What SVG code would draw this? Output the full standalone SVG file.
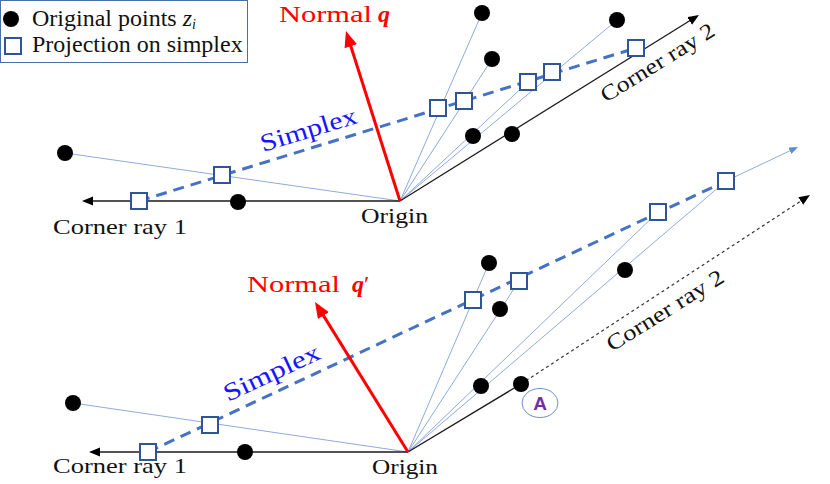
<svg xmlns="http://www.w3.org/2000/svg" width="830" height="484" viewBox="0 0 830 484">
<style>
text{font-family:"Liberation Serif","Times New Roman",serif;}
.ray{stroke:#1a1a1a;stroke-width:1.3;fill:none;}
.proj{stroke:#8FAADC;stroke-width:1;fill:none;}
.simp{stroke:#4472C4;stroke-width:3;stroke-dasharray:11 7;fill:none;}
.normal{stroke:#FF0000;stroke-width:3;fill:none;}
.pt{fill:#000;}
.sq{fill:#fff;stroke:#2F5597;stroke-width:2;}
.lbl{font-size:22px;fill:#111;}
.red{font-size:24px;fill:#FF0000;}
.blue{font-size:25px;fill:#1515FF;}
</style>
<defs>
<marker id="ahBlack" markerUnits="userSpaceOnUse" markerWidth="12" markerHeight="10" refX="1" refY="4.5" orient="auto"><path d="M0,0 L11,4.5 L0,9 z" fill="#000"/></marker>
<marker id="ahRed" markerUnits="userSpaceOnUse" markerWidth="17" markerHeight="14" refX="2" refY="6.5" orient="auto"><path d="M0,0 L16,6.5 L0,13 z" fill="#FF0000"/></marker>
<marker id="ahBlue" markerUnits="userSpaceOnUse" markerWidth="10" markerHeight="8" refX="1" refY="3.5" orient="auto"><path d="M0,0 L9,3.5 L0,7 z" fill="#5B8BD6"/></marker>
</defs>
<rect width="830" height="484" fill="#fff"/>

<g id="legend">
<rect x="0.5" y="0.5" width="247" height="62" fill="#fff" stroke="#4A6FA5" stroke-width="1"/>
<circle cx="11" cy="19" r="8" class="pt"/>
<rect x="5" y="38" width="16" height="16" class="sq"/>
<text x="32" y="26" font-size="24" fill="#111">Original points <tspan font-style="italic">z</tspan><tspan font-style="italic" font-size="14" dy="3">i</tspan></text>
<text x="32" y="52" font-size="24" fill="#111">Projection on simplex</text>
</g>

<g id="connectors">
<line class="proj" x1="400" y1="201" x2="482" y2="13"/>
<line class="proj" x1="400" y1="201" x2="492" y2="59"/>
<line class="proj" x1="400" y1="201" x2="617" y2="20"/>
<line class="proj" x1="400" y1="201" x2="528" y2="82"/>
<line class="proj" x1="400" y1="201" x2="65" y2="153"/>
<line class="proj" x1="408" y1="452" x2="489" y2="263"/>
<line class="proj" x1="408" y1="452" x2="519" y2="281"/>
<line class="proj" x1="408" y1="452" x2="658" y2="212"/>
<line class="proj" x1="408" y1="452" x2="726" y2="181"/>
<line class="proj" x1="408" y1="452" x2="73" y2="403"/>
<line x1="726" y1="181" x2="790.8" y2="150.4" stroke="#8FAADC" stroke-width="1" marker-end="url(#ahBlue)"/>
<line class="ray" x1="400" y1="201" x2="92" y2="201" marker-end="url(#ahBlack)"/>
<line class="ray" x1="400" y1="201" x2="690.5" y2="20.3" marker-end="url(#ahBlack)"/>
<line class="ray" x1="408" y1="452" x2="99" y2="452" marker-end="url(#ahBlack)"/>
<line class="ray" x1="408" y1="452" x2="521" y2="384"/>
<line x1="521" y1="384" x2="801.6" y2="200.5" stroke="#333" stroke-width="1.2" stroke-dasharray="3 3" marker-end="url(#ahBlack)"/>
<line class="simp" x1="139" y1="201" x2="636" y2="48"/>
<line class="simp" x1="148" y1="452" x2="726" y2="181"/>
<line class="normal" x1="400" y1="201" x2="350.2" y2="44.3" marker-end="url(#ahRed)"/>
<line class="normal" x1="408" y1="452" x2="322.4" y2="313.9" marker-end="url(#ahRed)"/>
</g>

<g id="points-top">
<circle id="p1" cx="482" cy="13" r="8" class="pt"/>
<circle id="p2" cx="492" cy="59" r="8" class="pt"/>
<circle id="p3" cx="617" cy="20" r="8" class="pt"/>
<circle id="p4" cx="473" cy="136" r="8" class="pt"/>
<circle id="p5" cx="512" cy="134" r="8" class="pt"/>
<circle id="p6" cx="65" cy="153" r="8" class="pt"/>
<circle id="p7" cx="238" cy="202" r="8" class="pt"/>
</g>
<g id="squares-top">
<rect id="s1" x="131" y="193" width="16" height="16" class="sq"/>
<rect id="s2" x="214" y="167" width="16" height="16" class="sq"/>
<rect id="s3" x="430" y="100" width="16" height="16" class="sq"/>
<rect id="s4" x="456" y="93" width="16" height="16" class="sq"/>
<rect id="s5" x="520" y="74" width="16" height="16" class="sq"/>
<rect id="s6" x="544" y="64" width="16" height="16" class="sq"/>
<rect id="s7" x="628" y="40" width="16" height="16" class="sq"/>
</g>
<g id="points-bottom">
<circle id="q1" cx="489" cy="263" r="8" class="pt"/>
<circle id="q2" cx="500" cy="309" r="8" class="pt"/>
<circle id="q3" cx="625" cy="270" r="8" class="pt"/>
<circle id="q4" cx="481" cy="386" r="8" class="pt"/>
<circle id="q5" cx="521" cy="384" r="8" class="pt"/>
<circle id="q6" cx="73" cy="403" r="8" class="pt"/>
<circle id="q7" cx="245" cy="452" r="8" class="pt"/>
</g>
<g id="squares-bottom">
<rect id="t1" x="140" y="444" width="16" height="16" class="sq"/>
<rect id="t2" x="202" y="417" width="16" height="16" class="sq"/>
<rect id="t3" x="465" y="292" width="16" height="16" class="sq"/>
<rect id="t4" x="511" y="273" width="16" height="16" class="sq"/>
<rect id="t5" x="650" y="204" width="16" height="16" class="sq"/>
<rect id="t6" x="718" y="173" width="16" height="16" class="sq"/>
</g>

<g id="label-A">
<ellipse cx="540" cy="403" rx="18" ry="14.5" fill="#fff" stroke="#6F8FC8" stroke-width="1"/>
<text x="540" y="410" text-anchor="middle" font-weight="bold" font-size="19" fill="#7030A0" style="font-family:'Liberation Sans',Arial,sans-serif">A</text>
</g>

<g id="labels-top">
<text class="red" x="279" y="22" textLength="93" lengthAdjust="spacingAndGlyphs">Normal</text>
<text class="red" x="378" y="22" font-weight="bold" font-style="italic">q</text>
<text class="blue" transform="translate(263,152) rotate(-17)" textLength="100" lengthAdjust="spacingAndGlyphs">Simplex</text>
<text class="lbl" x="53" y="234" textLength="134" lengthAdjust="spacingAndGlyphs">Corner ray 1</text>
<text class="lbl" x="361" y="223" textLength="67" lengthAdjust="spacingAndGlyphs">Origin</text>
<text class="lbl" transform="translate(606,103) rotate(-31.8)" textLength="130" lengthAdjust="spacingAndGlyphs">Corner ray 2</text>
</g>
<g id="labels-bottom">
<text class="red" x="247" y="292" textLength="93" lengthAdjust="spacingAndGlyphs">Normal</text>
<text class="red" x="352" y="292"><tspan font-weight="bold" font-style="italic">q</tspan>′</text>
<text class="blue" transform="translate(228,402) rotate(-25)" textLength="104" lengthAdjust="spacingAndGlyphs">Simplex</text>
<text class="lbl" x="53" y="473" textLength="134" lengthAdjust="spacingAndGlyphs">Corner ray 1</text>
<text class="lbl" x="372" y="474" textLength="66" lengthAdjust="spacingAndGlyphs">Origin</text>
<text class="lbl" transform="translate(612,352) rotate(-32)" textLength="134" lengthAdjust="spacingAndGlyphs">Corner ray 2</text>
</g>
</svg>
